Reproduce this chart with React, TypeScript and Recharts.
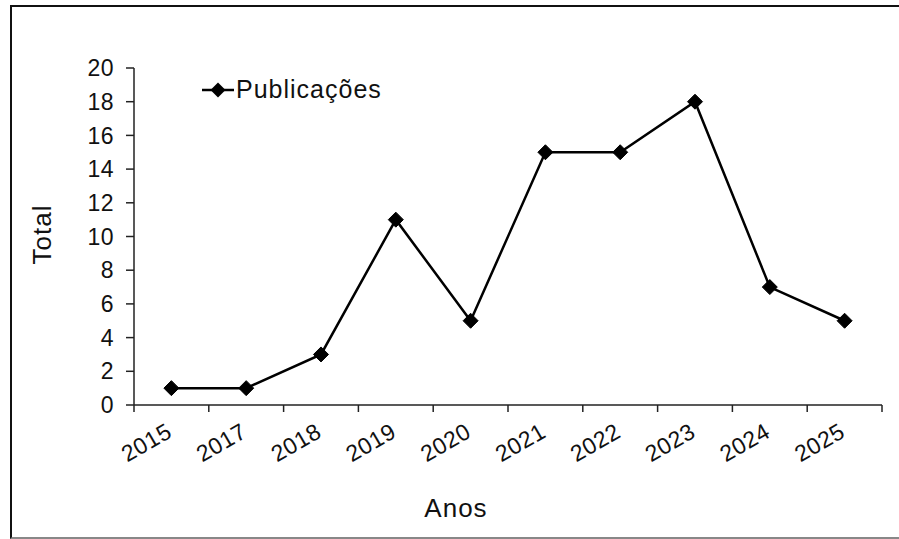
import React from 'react';
import { LineChart, Line, XAxis, YAxis, Legend, Label } from 'recharts';

const years = ['2015', '2017', '2018', '2019', '2020', '2021', '2022', '2023', '2024', '2025'];
const publicacoes = [1, 1, 3, 11, 5, 15, 15, 18, 7, 5];
const yTicks = [0, 2, 4, 6, 8, 10, 12, 14, 16, 18, 20];
const seriesName = 'Publicações';
const xTitle = 'Anos';
const yTitle = 'Total';

const data = years.map((y, i) => ({ pos: i + 0.5, year: y, value: publicacoes[i] }));
const xTicks: number[] = [];
for (let i = 0; i <= years.length; i++) {
  xTicks.push(i);
  if (i < years.length) xTicks.push(i + 0.5);
}

const FONT = '"Liberation Sans", Arial, sans-serif';

const Diamond = (props: any) => {
  const { cx, cy } = props;
  if (cx == null || cy == null) return null;
  const r = 7.5;
  return (
    <polygon
      points={`${cx},${cy - r} ${cx + r},${cy} ${cx},${cy + r} ${cx - r},${cy}`}
      fill="#000"
      stroke="#000"
      strokeWidth={1}
    />
  );
};

const XTick = (props: any) => {
  const { x, y, payload } = props;
  const v = payload.value as number;
  if (Number.isInteger(v)) {
    return <line x1={x} x2={x} y1={y} y2={y + 7} stroke="#222" strokeWidth={1.5} />;
  }
  const label = years[Math.floor(v)];
  return (
    <g transform={`translate(${x + 2},${y + 31}) rotate(-30)`}>
      <text x={0} y={0} textAnchor="end" fontFamily={FONT} fontSize={23} letterSpacing={0.5} fill="#111">
        {label}
      </text>
    </g>
  );
};

const LegendContent = () => (
  <div style={{ display: 'flex', alignItems: 'center', fontFamily: FONT, fontSize: 25, color: '#111', letterSpacing: 1, whiteSpace: 'nowrap' }}>
    <svg width={34} height={24} style={{ display: 'block' }}>
      <line x1={1} x2={33} y1={12} y2={12} stroke="#000" strokeWidth={2.5} />
      <polygon points="17,4.5 24.5,12 17,19.5 9.5,12" fill="#000" />
    </svg>
    <span style={{ marginLeft: 1 }}>{seriesName}</span>
  </div>
);

export default function App() {
  return (
    <div style={{ position: 'absolute', left: 0, top: 0, width: 899, height: 539, background: '#fff', overflow: 'hidden' }}>
      <div
        style={{
          position: 'absolute',
          left: 10,
          top: 5,
          width: 900,
          height: 530,
          borderLeft: '2px solid #111',
          borderTop: '2px solid #111',
          borderBottom: '2px solid #888',
        }}
      />
      <div style={{ position: 'absolute', left: 0, top: 0 }}>
        <LineChart width={899} height={539} data={data} margin={{ top: 68, right: 17, left: 0, bottom: 0 }}>
          <XAxis
            dataKey="pos"
            type="number"
            domain={[0, years.length]}
            ticks={xTicks}
            interval={0}
            height={134}
            tickSize={0}
            tickMargin={0}
            tickLine={false}
            axisLine={{ stroke: '#222', strokeWidth: 1.5 }}
            tick={<XTick />}
            allowDataOverflow
          >
            <Label
              content={(p: any) => {
                const vb = p.viewBox;
                return (
                  <text x={vb.x + vb.width / 2 - 52} y={vb.y + 112} textAnchor="middle" fontFamily={FONT} fontSize={26} letterSpacing={1} fill="#111">
                    {xTitle}
                  </text>
                );
              }}
            />
          </XAxis>
          <YAxis
            type="number"
            domain={[0, 20]}
            ticks={yTicks}
            interval={0}
            width={134}
            tickSize={8}
            tickMargin={12}
            tickLine={{ stroke: '#222', strokeWidth: 1.5 }}
            axisLine={{ stroke: '#222', strokeWidth: 1.5 }}
            tick={{ fill: '#111', fontSize: 23, fontFamily: FONT, letterSpacing: 0.5 }}
          >
            <Label
              content={(p: any) => {
                const vb = p.viewBox;
                const cx = 42;
                const cy = vb.y + vb.height / 2 - 2;
                return (
                  <text x={cx} y={cy} transform={`rotate(-90, ${cx}, ${cy})`} textAnchor="middle" dominantBaseline="central" fontFamily={FONT} fontSize={26} letterSpacing={1} fill="#111">
                    {yTitle}
                  </text>
                );
              }}
            />
          </YAxis>
          <Legend
            layout="horizontal"
            verticalAlign="middle"
            align="center"
            content={<LegendContent />}
            wrapperStyle={{ left: 201, top: 75, width: 'auto' }}
          />
          <Line
            name={seriesName}
            dataKey="value"
            stroke="#000"
            strokeWidth={2.5}
            dot={<Diamond />}
            activeDot={false}
            isAnimationActive={false}
          />
        </LineChart>
      </div>
    </div>
  );
}
